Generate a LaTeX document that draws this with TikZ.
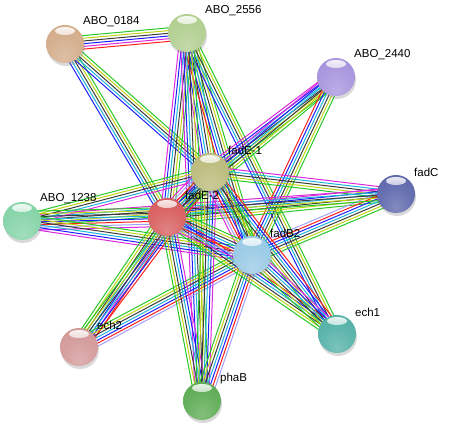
\documentclass[tikz,border=0pt]{standalone}
\usepackage{fontspec}
\setmainfont{Liberation Sans}
\usetikzlibrary{calc, backgrounds, shadows}

% evidence colours
\definecolor{cR}{RGB}{255,30,30}
\definecolor{cM}{RGB}{220,40,220}
\definecolor{cL}{RGB}{160,160,255}
\definecolor{cB}{RGB}{30,30,255}
\definecolor{cC}{RGB}{30,180,220}
\definecolor{cK}{RGB}{60,60,60}
\definecolor{cY}{RGB}{190,210,20}
\definecolor{cG}{RGB}{40,200,40}
% protein colours
\definecolor{pA}{RGB}{210,170,135}
\definecolor{pB}{RGB}{175,205,140}
\definecolor{pC}{RGB}{165,145,220}
\definecolor{pD}{RGB}{185,185,120}
\definecolor{pE}{RGB}{90,100,170}
\definecolor{pF}{RGB}{130,210,165}
\definecolor{pG}{RGB}{215,90,90}
\definecolor{pH}{RGB}{150,200,228}
\definecolor{pI}{RGB}{80,175,165}
\definecolor{pJ}{RGB}{210,150,150}
\definecolor{pK}{RGB}{90,170,80}
\colorlet{pcol}{pA}

% glossy sphere body, lighter towards the bottom
\pgfdeclareradialshading[pcol]{sball}{\pgfpoint{0bp}{-18bp}}{%
  color(0bp)=(pcol!75!white); color(22bp)=(pcol!92!white);
  color(40bp)=(pcol); color(58bp)=(pcol!85!black); color(68bp)=(pcol!55!black)}

\tikzset{
  prot/.style={circle, minimum size=38pt, inner sep=0pt, shading=sball,
    drop shadow={opacity=0.3, shadow xshift=1pt, shadow yshift=-3pt},
    path picture={\shade[top color=white, bottom color=pcol, opacity=0.9]
      ([yshift=-6pt]path picture bounding box.north) ellipse [x radius=10pt, y radius=4pt];}},
  lbl/.style={anchor=west, inner sep=0pt, font=\fontsize{11.5}{12}\selectfont},
  link/.style={line width=1pt},
}

% bundle of parallel evidence lines between two proteins
\newcommand{\evlinks}[3]{%
  \foreach \col [count=\i] in {#3} {\xdef\nlinks{\i}}
  \foreach \col [count=\i] in {#3} {
    \pgfmathsetmacro{\off}{(\i-(\nlinks+1)/2)*2.7}
    \draw[link, \col] ($(#1)!\off pt!90:(#2)$) -- ($(#2)!\off pt!-90:(#1)$);
  }
}

\begin{document}
\begin{tikzpicture}[x=1pt, y=-1pt]
\useasboundingbox (0,0) rectangle (449,427);

% proteins
\foreach \nm/\px/\py/\pc/\txt in {
    abo0184/65/44/pA/ABO\_0184,
    abo2556/187/33/pB/ABO\_2556,
    abo2440/336/77/pC/ABO\_2440,
    fadE1/210/172/pD/fadE-1,
    fadC/396/194/pE/fadC,
    abo1238/22/221/pF/ABO\_1238,
    fadE2/167/217/pG/fadE-2,
    fadB2/252/255/pH/fadB2,
    ech1/337/334/pI/ech1,
    ech2/79/347/pJ/ech2,
    phaB/202/401/pK/phaB} {
  \colorlet{pcol}{\pc}
  \node[prot] (\nm) at (\px,\py) {};
  \node[lbl] (\nm-l) at ($(\nm)+(18,-22)$) {\txt};
}

\begin{scope}[on background layer]
\evlinks{abo0184}{abo2556}{cR,cM,cB,cK,cY,cG}
\evlinks{abo0184}{fadE2}{cB,cC,cK,cY,cG}
\evlinks{abo0184}{fadE1}{cB,cC,cK,cY,cG}
\evlinks{abo2556}{fadE1}{cM,cB,cC,cK,cY,cG}
\evlinks{abo2556}{fadE2}{cM,cB,cC,cK,cY,cG}
\evlinks{abo2556}{fadB2}{cR,cB,cC,cK,cY,cG}
\evlinks{abo2556}{ech1}{cB,cC,cK,cY,cG}
\evlinks{abo2556}{phaB}{cM,cB,cC,cK,cY,cG}
\evlinks{abo2440}{fadE1}{cM,cB,cC,cK,cY,cG}
\evlinks{abo2440}{fadE2}{cM,cB,cC,cK,cY,cG}
\evlinks{abo2440}{fadB2}{cR,cB,cC,cK,cY,cG}
\evlinks{fadC}{fadE1}{cM,cC,cK,cY,cG}
\evlinks{fadC}{fadE2}{cM,cB,cC,cK,cY,cG}
\evlinks{fadC}{fadB2}{cL,cR,cB,cC,cK,cY,cG}
\evlinks{fadC}{abo1238}{cM,cC,cK,cY,cG}
\evlinks{abo1238}{fadE1}{cM,cC,cK,cY,cG}
\evlinks{abo1238}{fadE2}{cM,cL,cR,cB,cC,cK,cY,cG}
\evlinks{abo1238}{fadB2}{cM,cB,cC,cK,cY,cG}
\evlinks{ech2}{fadE2}{cR,cM,cB,cC,cK,cY,cG}
\evlinks{ech2}{fadE1}{cR,cB,cC,cK,cY,cG}
\evlinks{ech2}{fadB2}{cL,cR,cB,cC,cK,cY,cG}
\evlinks{phaB}{fadE2}{cM,cB,cC,cK,cY,cG}
\evlinks{phaB}{fadE1}{cM,cB,cC,cK,cY,cG}
\evlinks{phaB}{fadB2}{cL,cR,cB,cC,cK,cY,cG}
\evlinks{ech1}{fadE2}{cR,cB,cC,cK,cY,cG}
\evlinks{ech1}{fadE1}{cR,cB,cC,cK,cY,cG}
\evlinks{ech1}{fadB2}{cM,cB,cC,cK,cY,cG}
\evlinks{fadE1}{fadE2}{cM,cL,cR,cB,cC,cK,cY,cG}
\evlinks{fadE1}{fadB2}{cM,cL,cR,cB,cC,cK,cY,cG}
\evlinks{fadE2}{fadB2}{cM,cL,cR,cB,cC,cK,cY,cG}
\end{scope}
\end{tikzpicture}
\end{document}
